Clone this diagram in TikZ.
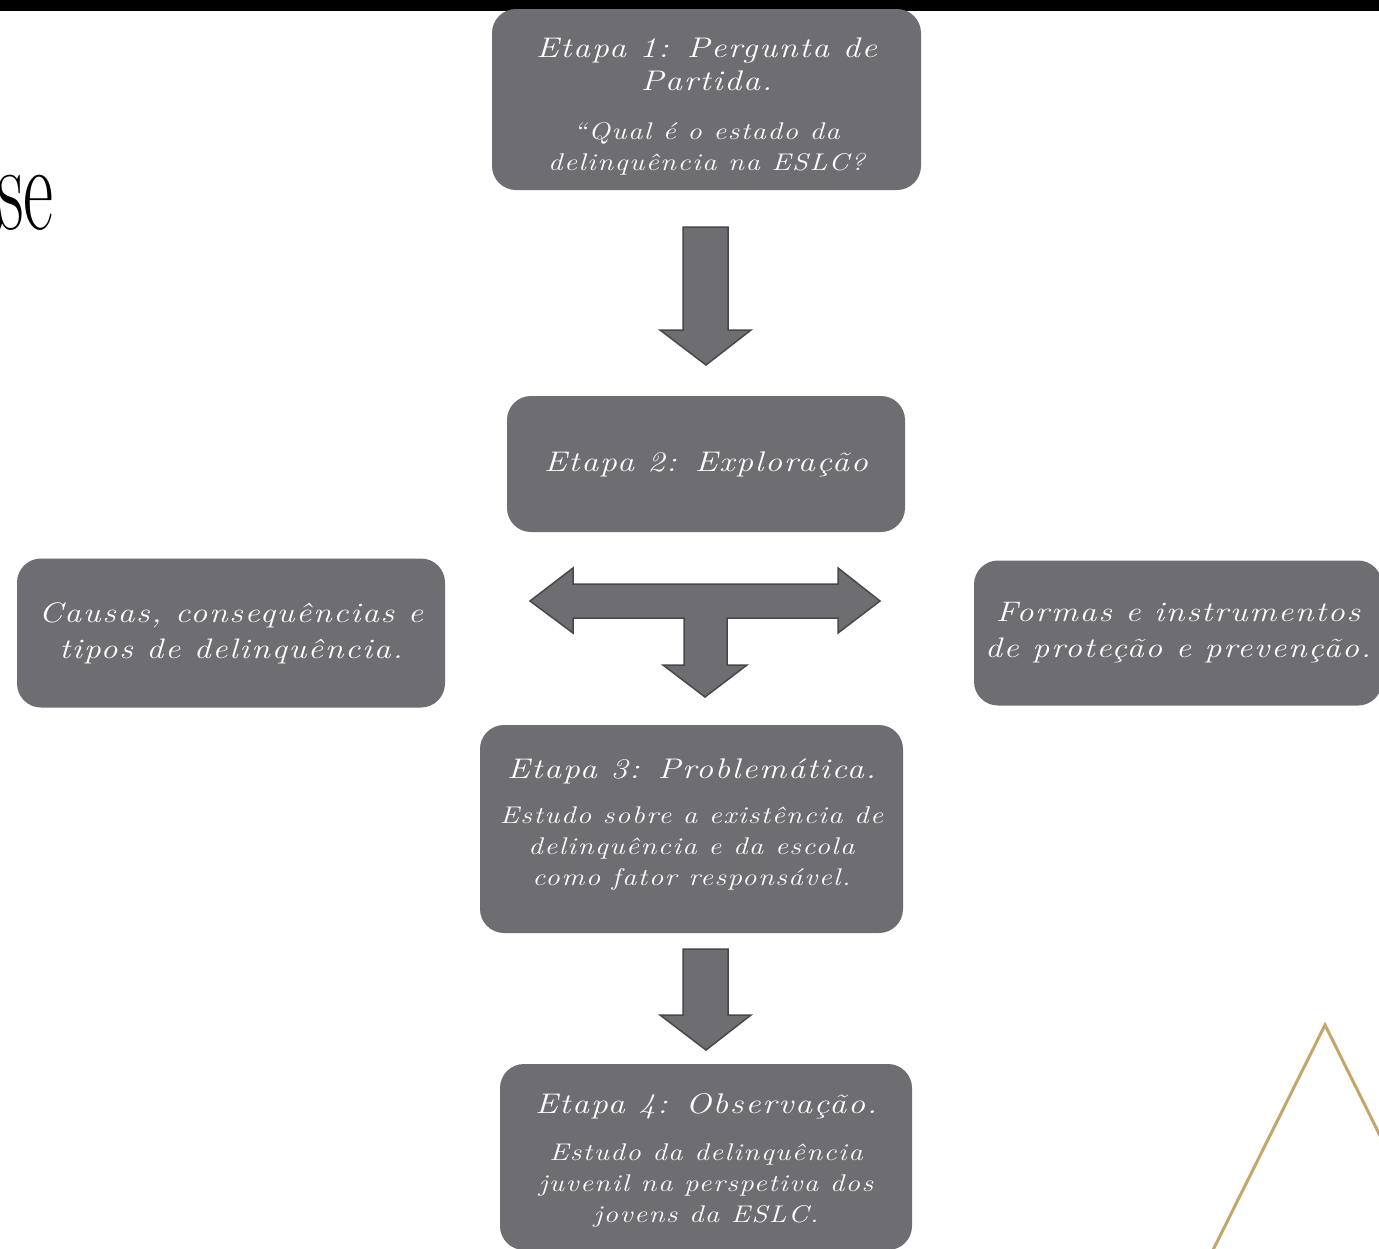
\documentclass[tikz,border=0pt]{standalone}
\usepackage{fontspec}
\setmainfont{Latin Modern Roman}
\newfontfamily\stepfont{Latin Modern Roman}[LetterSpace=6, FakeStretch=1.2]
\definecolor{boxgray}{RGB}{110,109,114}
\definecolor{arrowline}{RGB}{72,72,76}
\definecolor{gold}{RGB}{195,167,106}
\newcommand{\hdr}{\fontsize{28.4}{33}\selectfont}
\newcommand{\bdy}{\fontsize{24.1}{31}\selectfont}
\newcommand{\side}{\fontsize{28.2}{36}\selectfont}

\begin{document}
\begin{tikzpicture}[x=1pt, y=-1pt,
    stepbox/.style = {rectangle, rounded corners=24pt, fill=boxgray, text=white,
        align=center, inner sep=0pt, font=\stepfont\itshape\bdy},
    sidebox/.style = {stepbox, font=\stepfont\itshape\side},
    blockarrow/.style = {fill=boxgray, draw=arrowline, line width=1.5pt}]

    \fill[white] (0,0) rectangle (1379,1248);
    \useasboundingbox (0,0) rectangle (1379,1248);
    \clip (0,0) rectangle (1379,1248);
    \fill[black] (0,0) rectangle (1379,11);

    \node[anchor=base west, inner sep=0pt, font=\fontsize{123}{123}\selectfont] (titulo) at (-3,229) {\scalebox{0.6}[1]{se}};

    \node[stepbox, minimum width=429pt, minimum height=181pt] (etapa1) at (706.5,99.5) {\hdr\rule{0pt}{34pt}Etapa 1: Pergunta de\\[2pt] \hdr Partida.\\[18pt] “Qual é o estado da\\ delinquência na ESLC?};
    \node[stepbox, minimum width=398pt, minimum height=136pt] (etapa2) at (706,464) {\hdr Etapa 2: Exploração};
    \node[sidebox, minimum width=428pt, minimum height=149pt] (causas) at (231,633) {Causas, consequências e\\ tipos de delinquência.};
    \node[sidebox, minimum width=408pt, minimum height=145pt] (formas) at (1178,633) {Formas e instrumentos\\ de proteção e prevenção.};
    \node[stepbox, minimum width=423pt, minimum height=208pt] (etapa3) at (691.5,829) {\hdr Etapa 3: Problemática.\\[14pt] Estudo sobre a existência de\\ delinquência e da escola\\ como fator responsável.\rule[-14pt]{0pt}{1pt}};
    \node[stepbox, minimum width=412pt, minimum height=186pt] (etapa4) at (706,1157) {\hdr\rule{0pt}{26pt}Etapa 4: Observação.\\[16pt] Estudo da delinquência\\ juvenil na perspetiva dos\\ jovens da ESLC.};

    \draw[blockarrow] (683,227) -- (728,227) -- (728,330) -- (751,330) -- (706,365)
        -- (660,330) -- (683,330) -- cycle;
    \draw[blockarrow] (530,601) -- (573,568) -- (573,584) -- (838,584) -- (838,568)
        -- (880,601) -- (838,633) -- (838,618) -- (727,618) -- (727,665) -- (747,665)
        -- (705,697) -- (663,665) -- (684,665) -- (684,618) -- (573,618) -- (573,633) -- cycle;
    \draw[blockarrow] (683,949) -- (728,949) -- (728,1015) -- (751,1015) -- (706,1050)
        -- (660,1015) -- (683,1015) -- cycle;

    \draw[gold, line width=3pt] (1212,1252) -- (1325,1025) -- (1438,1252);
\end{tikzpicture}
\end{document}
